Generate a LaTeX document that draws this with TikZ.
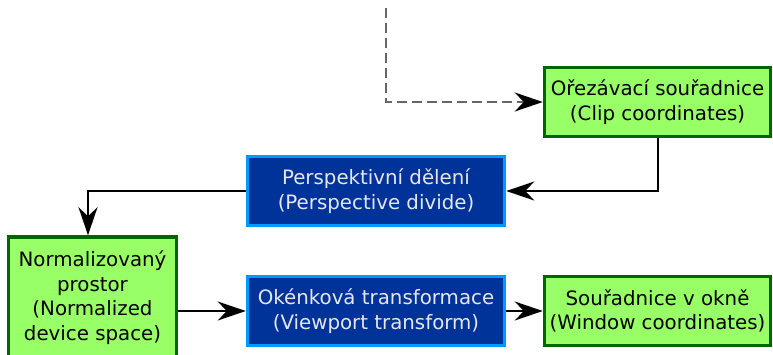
\documentclass[tikz,border=0pt]{standalone}
\usepackage{fontspec}
\setmainfont{DejaVu Sans}
\usetikzlibrary{arrows.meta}
\definecolor{greenfill}{HTML}{99FF66}
\definecolor{greenedge}{HTML}{006600}
\definecolor{bluefill}{HTML}{003399}
\definecolor{blueedge}{HTML}{0099FF}
\definecolor{bluetext}{HTML}{E6E6EE}
\tikzset{
  stage/.style={draw=greenedge, fill=greenfill, line width=3.5pt, inner sep=0pt,
    align=center, text=black},
  op/.style={draw=blueedge, fill=bluefill, line width=3.5pt, inner sep=0pt,
    align=center, text=bluetext},
  flow/.style={line width=2pt, -{Stealth[length=28pt,width=19pt,inset=9pt,black]}},
  feed/.style={flow, draw=black!60, dash pattern=on 10pt off 5pt},
}
\begin{document}
\begin{tikzpicture}[x=1pt,y=-1pt,font=\fontsize{19.8}{24.5}\selectfont]
\useasboundingbox (0,0) rectangle (773,355);
\node[stage, minimum width=226pt, minimum height=69pt] (clip) at (657.5,102)
  {Ořezávací souřadnice\\(Clip coordinates)};
\node[op, minimum width=257pt, minimum height=69pt] (persp) at (376,191)
  {Perspektivní dělení\\(Perspective divide)};
\node[stage, minimum width=168pt, minimum height=121pt] (ndc) at (92.5,297.5)
  {Normalizovaný\\prostor\\(Normalized\\device space)};
\node[op, minimum width=257pt, minimum height=69pt] (view) at (376,311)
  {Okénková transformace\\(Viewport transform)};
\node[stage, minimum width=226pt, minimum height=69pt] (win) at (657.5,311)
  {Souřadnice v okně\\(Window coordinates)};
\coordinate (src) at (386,8);
\draw[feed] (src) |- (clip.west);
\draw[flow] (clip.south) |- (persp.east);
\draw[flow] (persp.west) -| (ndc.north -| 88,0);
\draw[flow] (ndc.east |- view.west) -- (view.west);
\draw[flow] (view.east) -- (win.west);
\end{tikzpicture}
\end{document}
